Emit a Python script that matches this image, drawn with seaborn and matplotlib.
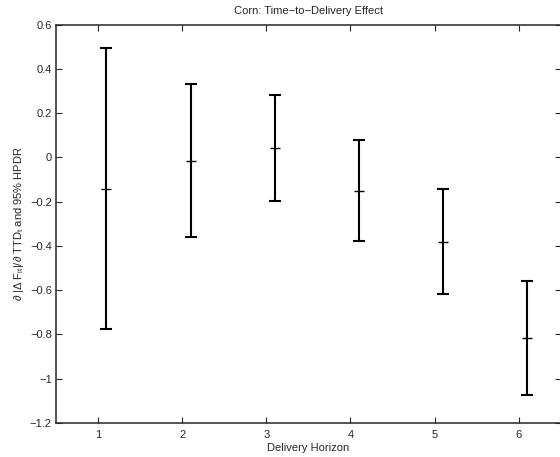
import matplotlib
matplotlib.use("Agg")
import matplotlib.pyplot as plt
import seaborn as sns
import numpy as np
import pandas as pd

horizon = [1, 2, 3, 4, 5, 6]
median = [-0.143, -0.015, 0.041, -0.151, -0.382, -0.815]
upper = [0.494, 0.334, 0.281, 0.078, -0.141, -0.557]
lower = [-0.777, -0.359, -0.197, -0.377, -0.617, -1.072]

sns.set_style("ticks")
plt.rcParams['font.family'] = ['Liberation Sans', 'DejaVu Sans']
plt.rcParams['mathtext.fontset'] = 'custom'
plt.rcParams['mathtext.rm'] = 'Liberation Sans'
plt.rcParams['mathtext.it'] = 'Liberation Sans'

df = pd.DataFrame({"h": np.array(horizon) + 0.1, "m": median, "u": upper, "l": lower})

fig = plt.figure(figsize=(5.6, 4.57), dpi=100)
ax = fig.add_axes([0.1, 0.0744, 0.9015, 0.8716])

yerr = np.vstack([df["m"] - df["l"], df["u"] - df["m"]])
ax.errorbar(df["h"], df["m"], yerr=yerr, fmt="none", ecolor="black",
            elinewidth=1.5, capsize=4.2, capthick=1.5)
sns.scatterplot(data=df, x="h", y="m", marker="_", s=60, color="black",
                linewidth=1.0, ax=ax, legend=False)

ax.set_xlim(0.5, 6.5)
ax.set_ylim(-1.2, 0.6)
ax.set_xticks(horizon)
ax.set_yticks(np.round(np.arange(-1.2, 0.61, 0.2), 1))
ax.set_yticklabels(["\u22121.2", "\u22121", "\u22120.8", "\u22120.6", "\u22120.4", "\u22120.2", "0", "0.2", "0.4", "0.6"])
ax.tick_params(direction="in", top=True, right=True, labelsize=8, length=4, width=0.8, pad=3)
ax.tick_params(axis="x", pad=5)
for s in ax.spines.values():
    s.set_visible(True)
    s.set_linewidth(1.1)
ax.set_xlabel("Delivery Horizon", fontsize=8, labelpad=2.5)
ax.set_ylabel(r"$\mathregular{\partial\ |\Delta\ F_{it}|/\partial\ TTD_t}$ and 95% HPDR", fontsize=8, labelpad=3)
ax.set_title("Corn: Time\u2212to\u2212Delivery Effect", fontsize=8, pad=8)

fig.savefig("out.png", dpi=100)
